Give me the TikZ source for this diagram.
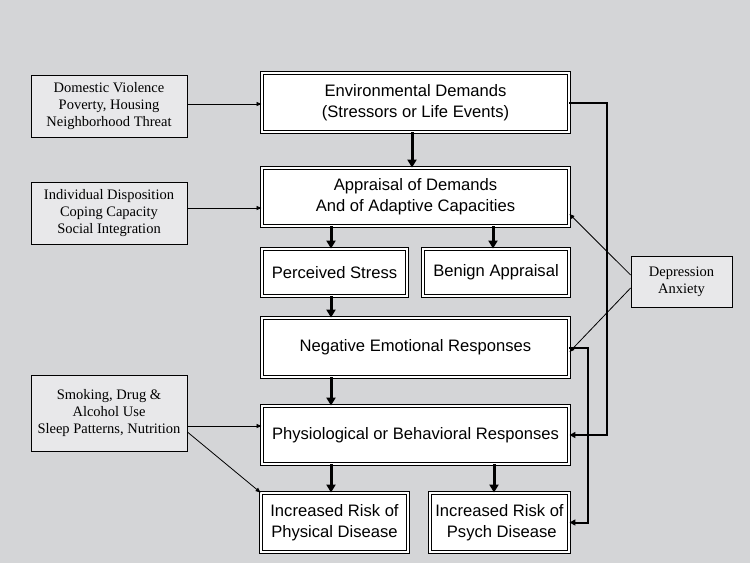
\documentclass[tikz,border=0pt]{standalone}
\usepackage{fontspec}
\setmainfont{Liberation Sans}
\newfontfamily\boxserif{Liberation Serif}
\usetikzlibrary{arrows.meta}
\definecolor{bgc}{HTML}{D4D5D7}
\definecolor{sidec}{HTML}{E8E8EA}
\tikzset{
  mainbox/.style={draw=black, line width=0.9pt, double=white, double distance=1.3pt, fill=white,
    align=center, inner sep=0pt, font=\fontsize{16.6}{21}\selectfont},
  sidebox/.style={draw=black, line width=0.8pt, fill=sidec, align=center, inner sep=0pt,
    font=\boxserif\fontsize{14.5}{17.3}\selectfont},
  thickarr/.style={line width=3pt, -{Triangle[length=8pt,width=9pt]}},
  rightarr/.style={line width=2pt, -{Triangle[length=6pt,width=6pt]}},
  thinarr/.style={line width=0.8pt, -{Triangle[length=5pt,width=4pt]}}
}
\begin{document}
\begin{tikzpicture}[x=1pt,y=-1pt]
\fill[bgc] (0,0) rectangle (750,563);
\useasboundingbox (0,0) rectangle (750,563);
% main boxes
\node[mainbox, minimum width=307pt, minimum height=59pt] (env) at (415.5,102.5) {Environmental Demands\\(Stressors or Life Events)};
\node[mainbox, minimum width=307pt, minimum height=58pt] (app) at (415.5,197) {Appraisal of Demands\\And of Adaptive Capacities};
\node[mainbox, minimum width=145pt, minimum height=47pt] (perc) at (334.5,272.5) {Perceived Stress};
\node[mainbox, minimum width=146pt, minimum height=47pt] (ben) at (496,272.5) {Benign Appraisal};
\node[mainbox, minimum width=307pt, minimum height=59pt] (neg) at (415.5,347.5) {Negative Emotional Responses};
\node[mainbox, minimum width=307pt, minimum height=58pt] (phy) at (415.5,435) {Physiological or Behavioral Responses};
\node[mainbox, minimum width=147pt, minimum height=59pt] (pdis) at (334.5,522.5) {Increased Risk of\\Physical Disease};
\node[mainbox, minimum width=139pt, minimum height=59pt] (sdis) at (499.5,522.5) {Increased Risk of\\\ Psych Disease};
% side boxes
\node[sidebox, minimum width=156pt, minimum height=62pt] (dom) at (109,106) {Domestic Violence\\Poverty, Housing\\Neighborhood Threat};
\node[sidebox, minimum width=156pt, minimum height=62pt] (ind) at (109,213) {Individual Disposition\\Coping Capacity\\Social Integration};
\node[sidebox, minimum width=156pt, minimum height=76pt] (smk) at (109,413) {Smoking, Drug \&\\Alcohol Use\\Sleep Patterns, Nutrition};
\node[sidebox, minimum width=101pt, minimum height=51pt] (dep) at (681.5,281.5) {Depression\\Anxiety};
% helper coordinates
\coordinate (cA) at (331,0);
\coordinate (cB) at (412,0);
\coordinate (cC) at (493,0);
\coordinate (cD) at (494,0);
\coordinate (r1) at (607,0);
\coordinate (r2) at (588,0);
% thick down arrows
\draw[thickarr] (env.south -| cB) -- (app.north -| cB);
\draw[thickarr] (app.south -| cA) -- (perc.north -| cA);
\draw[thickarr] (app.south -| cC) -- (ben.north -| cC);
\draw[thickarr] (perc.south -| cA) -- (neg.north -| cA);
\draw[thickarr] (neg.south -| cA) -- (phy.north -| cA);
\draw[thickarr] (phy.south -| cA) -- (pdis.north -| cA);
\draw[thickarr] (phy.south -| cD) -- (sdis.north -| cD);
% right feedback connectors
\draw[rightarr] (env.east) -- (env.east -| r1) -- (phy.east -| r1) -- (phy.east);
\draw[rightarr] (neg.east) -- (neg.east -| r2) -- (sdis.east -| r2) -- (sdis.east);
% side connectors
\draw[thinarr] ([yshift=2pt]dom.east) -- ([yshift=-1.5pt]env.west);
\draw[thinarr] ([yshift=5pt]ind.east) -- ([yshift=-11pt]app.west);
\draw[thinarr] ([yshift=-13pt]smk.east) -- ([yshift=9pt]phy.west);
\draw[thinarr] ([yshift=-19pt]smk.east) -- (pdis.north west);
\draw[thinarr] ([yshift=6.5pt]dep.west) -- ([yshift=-17pt]app.east);
\draw[thinarr] ([yshift=-6.5pt]dep.west) -- ([yshift=-4.5pt]neg.east);
\end{tikzpicture}
\end{document}
